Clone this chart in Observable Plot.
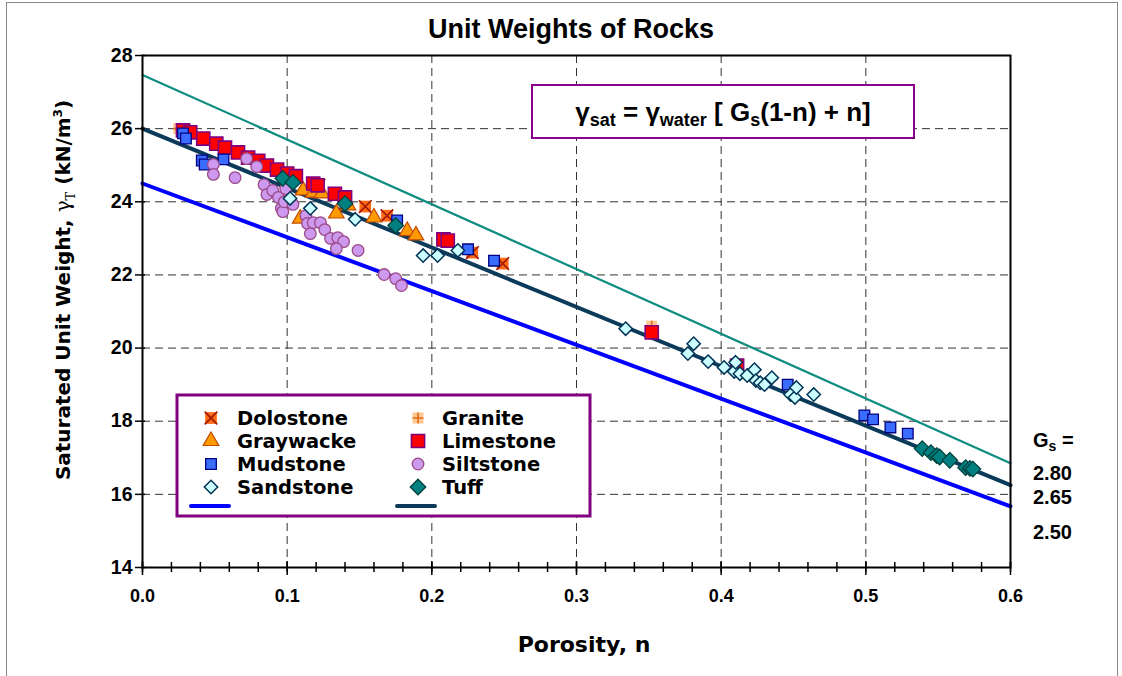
<!DOCTYPE html>
<html>
<head>
<meta charset="utf-8">
<script src="https://cdn.jsdelivr.net/npm/d3@7"></script>
<script src="https://cdn.jsdelivr.net/npm/@observablehq/plot@0.6"></script>
<style>
  body { margin: 0; background: #fff; }
  #wrap { position: relative; width: 1122px; height: 676px; overflow: hidden; background: #fff; }
  #border { position: absolute; left: 6px; top: 2px; width: 1112px; height: 720px; border: 1px solid #8a8a8a; box-sizing: border-box; pointer-events: none; }
  #title { position: relative; height: 44px; box-sizing: border-box; padding-top: 15px; padding-left: 20px; text-align: center; font: bold 27px "Liberation Sans", Arial, sans-serif; line-height: 29px; }
  #chart svg { display: block; }
</style>
</head>
<body>
<div id="wrap">
  <div id="border"></div>
  <div id="title">Unit Weights of Rocks</div>
  <div id="chart"></div>
</div>
<script>
// ---------------- data ----------------
const xMajorTicks = [0, 0.1, 0.2, 0.3, 0.4, 0.5, 0.6];
const xMinorTicks = d3.range(0, 31).map(i => +(i * 0.02).toFixed(2));
const yTicks = [14, 16, 18, 20, 22, 24, 26, 28];
const xGrid = [0.1, 0.2, 0.3, 0.4, 0.5];
const yGrid = [16, 18, 20, 22, 24, 26];

const gsLabels = ["2.80", "2.65", "2.50"];
const lineN = [0, 0.6];
const lineStartG = [27.47, 26.0, 24.5];
const lineEndG = [16.85, 16.25, 15.67];

const dolostoneN = [0.122, 0.154, 0.169, 0.228, 0.249];
const dolostoneG = [24.45, 23.87, 23.62, 22.61, 22.31];

const graniteN = [0.025, 0.030, 0.352];
const graniteG = [26.0, 25.97, 20.6];

const graywackeN = [0.109, 0.111, 0.118, 0.124, 0.134, 0.142, 0.160, 0.183, 0.189];
const graywackeG = [23.54, 24.31, 24.25, 24.23, 23.68, 23.9, 23.57, 23.2, 23.08];

const limestoneN = [0.028, 0.033, 0.042, 0.051, 0.057, 0.066, 0.073, 0.080, 0.086, 0.093, 0.100, 0.106, 0.118, 0.121, 0.133, 0.140, 0.208, 0.211, 0.352, 0.411];
const limestoneG = [25.95, 25.90, 25.73, 25.59, 25.48, 25.35, 25.21, 25.12, 24.99, 24.88, 24.77, 24.70, 24.50, 24.45, 24.22, 24.12, 22.97, 22.94, 20.43, 19.52];

const mudstoneN = [0.028, 0.030, 0.041, 0.043, 0.056, 0.176, 0.225, 0.243, 0.446, 0.499, 0.505, 0.517, 0.529];
const mudstoneG = [25.87, 25.73, 25.13, 25.02, 25.16, 23.49, 22.70, 22.39, 19.00, 18.16, 18.05, 17.83, 17.66];

const siltstoneN = [0.049, 0.049, 0.064, 0.072, 0.079, 0.084, 0.086, 0.090, 0.094, 0.096, 0.097, 0.098, 0.099, 0.104, 0.113, 0.114, 0.116, 0.118, 0.123, 0.126, 0.130, 0.135, 0.139, 0.134, 0.149, 0.167, 0.175, 0.179];
const siltstoneG = [25.02, 24.75, 24.66, 25.18, 24.96, 24.47, 24.20, 24.31, 24.12, 23.82, 23.73, 24.00, 24.36, 23.93, 23.62, 23.41, 23.13, 23.43, 23.43, 23.24, 23.00, 23.02, 22.91, 22.72, 22.67, 22.01, 21.90, 21.71];

const sandstoneN = [0.102, 0.116, 0.147, 0.194, 0.204, 0.218, 0.334, 0.377, 0.381, 0.391, 0.402, 0.409, 0.410, 0.413, 0.418, 0.423, 0.424, 0.427, 0.430, 0.435, 0.448, 0.451, 0.452, 0.464];
const sandstoneG = [24.09, 23.82, 23.52, 22.53, 22.53, 22.67, 20.53, 19.85, 20.12, 19.63, 19.47, 19.36, 19.61, 19.30, 19.25, 19.41, 19.11, 19.05, 19.00, 19.19, 18.73, 18.65, 18.92, 18.73];

const tuffN = [0.097, 0.104, 0.140, 0.175, 0.539, 0.545, 0.549, 0.551, 0.558, 0.569, 0.572, 0.574];
const tuffG = [24.64, 24.53, 23.95, 23.35, 17.25, 17.14, 17.06, 17.02, 16.93, 16.73, 16.71, 16.69];

const legendLeft = ["Dolostone", "Graywacke", "Mudstone", "Sandstone"];
const legendRight = ["Granite", "Limestone", "Siltstone", "Tuff"];

// ---------------- styles ----------------
const lineStyle = {
  "2.80": { stroke: "#0E8C80", strokeWidth: 2.2 },
  "2.65": { stroke: "#0B3A5A", strokeWidth: 4 },
  "2.50": { stroke: "#0000FF", strokeWidth: 4 }
};
const rockStyle = {
  Granite:   [{ symbol: "square", r: 6.2, fill: "#FFC890", stroke: "none" }, { symbol: "plus", r: 3.6, fill: "none", stroke: "#E06A18", strokeWidth: 1.6 }],
  Dolostone: [{ symbol: "square", r: 6.6, fill: "#FF6A14", stroke: "none" }, { symbol: "times", r: 5.8, fill: "none", stroke: "#A01800", strokeWidth: 1.6 }],
  Graywacke: [{ symbol: "triangle", r: 5.8, fill: "#FF9900", stroke: "#C04A00", strokeWidth: 1.2 }],
  Limestone: [{ symbol: "square", r: 7.4, fill: "#FF0000", stroke: "#800080", strokeWidth: 1.6 }],
  Mudstone:  [{ symbol: "square", r: 6.0, fill: "#3A6CFF", stroke: "#000080", strokeWidth: 1.3 }],
  Siltstone: [{ symbol: "circle", r: 5.8, fill: "#CC99EE", stroke: "#9B4A88", strokeWidth: 1.3 }],
  Sandstone: [{ symbol: "diamond2", r: 6.0, fill: "#CCFFFF", stroke: "#003355", strokeWidth: 1.5 }],
  Tuff:      [{ symbol: "diamond2", r: 7.0, fill: "#008080", stroke: "#00403C", strokeWidth: 1.3 }]
};
const rockData = {
  Granite: [graniteN, graniteG], Dolostone: [dolostoneN, dolostoneG], Graywacke: [graywackeN, graywackeG],
  Limestone: [limestoneN, limestoneG], Mudstone: [mudstoneN, mudstoneG], Siltstone: [siltstoneN, siltstoneG],
  Sandstone: [sandstoneN, sandstoneG], Tuff: [tuffN, tuffG]
};
const drawOrder = ["Granite", "Dolostone", "Graywacke", "Limestone", "Mudstone", "Siltstone", "Sandstone", "Tuff"];

const rows = (ns, gs) => ns.map((n, i) => ({ n, g: gs[i] }));
const lineRows = gsLabels.flatMap((gs, i) => [
  { gs, n: lineN[0], g: lineStartG[i] },
  { gs, n: lineN[1], g: lineEndG[i] }
]);

// ---------------- chart ----------------
const H = 632, MT = 11, MB = 109, ML = 142, MR = 112;
const innerH = H - MT - MB;   // 512
const innerW = 1122 - ML - MR; // 868

const marks = [
  Plot.gridX(xGrid, { stroke: "#333", strokeOpacity: 1, strokeWidth: 1, strokeDasharray: "8,5" }),
  Plot.gridY(yGrid, { stroke: "#333", strokeOpacity: 1, strokeWidth: 1, strokeDasharray: "8,5" }),
  ...gsLabels.map(gs => Plot.line(lineRows.filter(d => d.gs === gs), { x: "n", y: "g", ...lineStyle[gs] })),
];
for (const rock of drawOrder) {
  const [ns, gs] = rockData[rock];
  for (const st of rockStyle[rock]) {
    marks.push(Plot.dot(rows(ns, gs), { x: "n", y: "g", ...st }));
  }
}
marks.push(
  Plot.frame({ stroke: "black", strokeWidth: 2 }),
  Plot.tickX(xMinorTicks, { x: d => d, insetTop: innerH - 5, insetBottom: -5, stroke: "black", strokeWidth: 1.5 }),
  Plot.tickX(xMajorTicks, { x: d => d, insetTop: innerH - 6, insetBottom: -8, stroke: "black", strokeWidth: 1.5 }),
  Plot.tickY(yTicks, { y: d => d, insetLeft: -7, insetRight: innerW - 3, stroke: "black", strokeWidth: 1.5 }),
  Plot.axisX({ ticks: xMajorTicks, tickSize: 0, tickPadding: 22, tickFormat: d3.format(".1f"), label: null, fontSize: 18 }),
  Plot.axisY({ ticks: yTicks, tickSize: 0, tickPadding: 10, label: null, fontSize: 19.5 })
);

const plot = Plot.plot({
  width: 1122, height: H,
  marginTop: MT, marginBottom: MB, marginLeft: ML, marginRight: MR,
  x: { domain: [0, 0.6], label: null },
  y: { domain: [14, 28], label: null },
  style: { fontFamily: "'Liberation Sans', Arial, sans-serif", fontSize: "18px", fontWeight: "bold", color: "black", background: "transparent", overflow: "visible" },
  marks
});
document.getElementById("chart").appendChild(plot);

// ---------------- annotations (legend, formula, axis titles) ----------------
const OY = 44; // svg top in page coordinates
const svg = d3.select(plot);
const symMap = { square: d3.symbolSquare, times: d3.symbolTimes, plus: d3.symbolPlus, triangle: d3.symbolTriangle, circle: d3.symbolCircle, diamond2: d3.symbolDiamond2 };
const comic = "'Comic Sans MS', 'DejaVu Sans', sans-serif";

// y-axis title
const yt = svg.append("text")
  .attr("transform", `translate(63,${290 - OY}) rotate(-90)`)
  .attr("text-anchor", "middle").attr("dy", "0.35em")
  .style("font-family", comic).style("font-size", "20px").style("font-weight", "bold");
yt.append("tspan").text("Saturated Unit Weight, ");
yt.append("tspan").text("γ").style("font-family", "'DejaVu Serif', serif").style("font-weight", "normal");
yt.append("tspan").text("T").attr("dy", 5).style("font-size", "13px").style("font-family", "'DejaVu Serif', serif").style("font-weight", "normal");
yt.append("tspan").text(" (kN/m").attr("dy", -5);
yt.append("tspan").text("3").attr("dy", -8).style("font-size", "12px");
yt.append("tspan").text(")").attr("dy", 8);

// x-axis title
svg.append("text").attr("x", 584).attr("y", 652 - OY).attr("text-anchor", "middle")
  .style("font-family", comic).style("font-size", "22px").style("font-weight", "bold")
  .text("Porosity, n");

// formula box
svg.append("rect").attr("x", 532).attr("y", 85 - OY).attr("width", 382).attr("height", 53)
  .attr("fill", "white").attr("stroke", "#8B008B").attr("stroke-width", 2);
const ft = svg.append("text").attr("x", 723).attr("y", 121 - OY).attr("text-anchor", "middle")
  .style("font-family", "'Liberation Sans', Arial, sans-serif").style("font-size", "26px").style("font-weight", "bold");
ft.append("tspan").text("γ");
ft.append("tspan").text("sat").attr("dy", 5).style("font-size", "18px");
ft.append("tspan").text(" = γ").attr("dy", -5);
ft.append("tspan").text("water").attr("dy", 5).style("font-size", "18px");
ft.append("tspan").text(" [ G").attr("dy", -5);
ft.append("tspan").text("s").attr("dy", 5).style("font-size", "18px");
ft.append("tspan").text("(1-n) + n]").attr("dy", -5);

// Gs labels at right
const gsText = svg.append("text").attr("x", 1033).attr("y", 440 - OY).attr("dy", "0.35em").attr("text-anchor", "start")
  .style("font-family", "'Liberation Sans', Arial, sans-serif").style("font-size", "20px").style("font-weight", "bold");
gsText.append("tspan").text("G");
gsText.append("tspan").text("s").attr("dy", 4).style("font-size", "14px");
gsText.append("tspan").text(" =").attr("dy", -4);
const gsY = [473, 497, 532];
gsLabels.forEach((t, i) => {
  svg.append("text").attr("x", 1033).attr("y", gsY[i] - OY).attr("dy", "0.35em").attr("text-anchor", "start")
    .style("font-family", "'Liberation Sans', Arial, sans-serif").style("font-size", "20px").style("font-weight", "bold")
    .text(t);
});

// legend
const lg = svg.append("g");
lg.append("rect").attr("x", 177).attr("y", 395 - OY).attr("width", 413).attr("height", 121)
  .attr("fill", "white").attr("stroke", "#800080").attr("stroke-width", 3);
const rowY = [418, 441, 464, 487];
function drawSymbol(rock, cx, cy) {
  for (const st of rockStyle[rock]) {
    lg.append("path")
      .attr("d", d3.symbol().type(symMap[st.symbol]).size(Math.PI * st.r * st.r)())
      .attr("transform", `translate(${cx},${cy})`)
      .attr("fill", st.fill).attr("stroke", st.stroke)
      .attr("stroke-width", st.strokeWidth || 1);
  }
}
[[legendLeft, 211, 237], [legendRight, 418, 442]].forEach(([names, sx, tx]) => {
  names.forEach((name, i) => {
    drawSymbol(name, sx, rowY[i] - OY);
    lg.append("text").attr("x", tx).attr("y", rowY[i] - OY).attr("dy", "0.35em").attr("text-anchor", "start")
      .style("font-family", comic).style("font-size", "19.5px").style("font-weight", "bold")
      .text(name);
  });
});
lg.append("line").attr("x1", 191).attr("x2", 229).attr("y1", 506 - OY).attr("y2", 506 - OY)
  .attr("stroke", lineStyle["2.50"].stroke).attr("stroke-width", 4).attr("stroke-linecap", "round");
lg.append("line").attr("x1", 397).attr("x2", 435).attr("y1", 506 - OY).attr("y2", 506 - OY)
  .attr("stroke", lineStyle["2.65"].stroke).attr("stroke-width", 4).attr("stroke-linecap", "round");
</script>
</body>
</html>
